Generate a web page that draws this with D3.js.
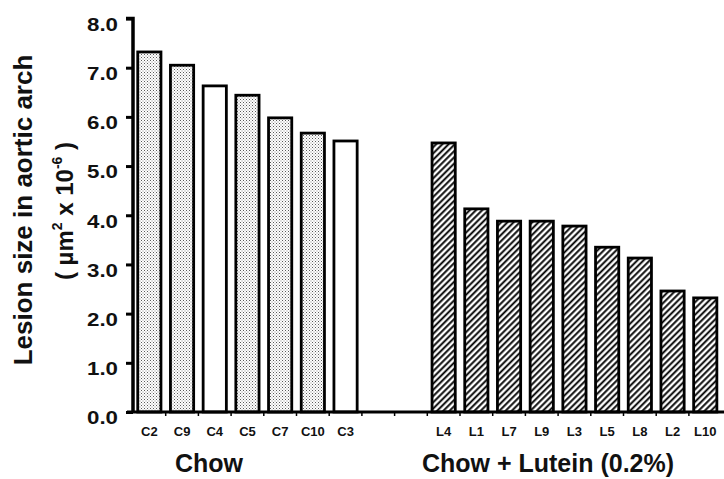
<!DOCTYPE html>
<html>
<head>
<meta charset="utf-8">
<script src="https://cdn.jsdelivr.net/npm/d3@7"></script>
<style>
  html, body { margin: 0; padding: 0; background: #fff; }
  svg { display: block; font-family: "Liberation Sans", Arial, sans-serif; font-weight: bold; }
</style>
</head>
<body>
<script>
// Lesion size in the aortic arch (µm² × 10⁻⁶) for each animal
const chowIds = ["C2", "C9", "C4", "C5", "C7", "C10", "C3"];
const chowValues = [7.32, 7.05, 6.63, 6.44, 5.98, 5.67, 5.51];
const luteinIds = ["L4", "L1", "L7", "L9", "L3", "L5", "L8", "L2", "L10"];
const luteinValues = [5.47, 4.13, 3.88, 3.88, 3.78, 3.35, 3.13, 2.46, 2.32];
const yTicks = [0, 1, 2, 3, 4, 5, 6, 7, 8];
const groupTitles = ["Chow", "Chow + Lutein (0.2%)"];

const W = 724, H = 479;
const svg = d3.select("body").append("svg").attr("width", W).attr("height", H);

// two empty slots separate the groups along the category axis
const gapSlots = ["gap-a", "gap-b"];
const slots = [...chowIds, ...gapSlots, ...luteinIds];
const bars = [
  ...chowIds.map((id, i) => ({ id, value: chowValues[i], group: 0 })),
  ...luteinIds.map((id, i) => ({ id, value: luteinValues[i], group: 1 }))
];

const x = d3.scaleBand().domain(slots).range([133, 721.6]).padding(0);
const y = d3.scaleLinear().domain([0, 8]).range([412, 18.5]);
const barW = x.bandwidth() * 0.71;

// fill patterns: fine stipple for chow, diagonal hatching for lutein
const defs = svg.append("defs");
const dots = defs.append("pattern").attr("id", "stipple")
  .attr("patternUnits", "userSpaceOnUse").attr("width", 3).attr("height", 3);
dots.append("rect").attr("width", 3).attr("height", 3).attr("fill", "#fff");
dots.append("rect").attr("x", 0).attr("y", 0).attr("width", 1).attr("height", 1).attr("fill", "#5a5a5a");
dots.append("rect").attr("x", 1.5).attr("y", 1.5).attr("width", 1).attr("height", 1).attr("fill", "#8a8a8a");

const hatchStep = 4.4;
const hatch = defs.append("pattern").attr("id", "hatch")
  .attr("patternUnits", "userSpaceOnUse").attr("width", hatchStep).attr("height", hatchStep)
  .attr("patternTransform", "rotate(45)");
hatch.append("rect").attr("width", hatchStep).attr("height", hatchStep).attr("fill", "#fff");
hatch.append("line").attr("x1", 1.2).attr("y1", 0).attr("x2", 1.2).attr("y2", hatchStep)
  .attr("stroke", "#000").attr("stroke-width", 1.9);

// chow bars drawn without stipple
const plainBars = new Set(["C4", "C3"]);
const fillOf = d => d.group === 1 ? "url(#hatch)" : (plainBars.has(d.id) ? "#fff" : "url(#stipple)");

svg.append("g").selectAll("rect").data(bars).join("rect")
  .attr("x", d => x(d.id) + (x.bandwidth() - barW) / 2)
  .attr("y", d => y(d.value))
  .attr("width", barW)
  .attr("height", d => y(0) - y(d.value))
  .attr("fill", fillOf)
  .attr("stroke", "#000")
  .attr("stroke-width", 2.8);

// y axis
const yAxis = svg.append("g").attr("transform", "translate(133,0)")
  .call(d3.axisLeft(y).tickValues(yTicks).tickFormat(d3.format(".1f")).tickSize(7).tickPadding(8));
yAxis.select(".domain").attr("stroke-width", 3.5).attr("d", `M-7,${y(8)}H0V${y(0)}`);
yAxis.selectAll(".tick line").attr("stroke-width", 3);
yAxis.selectAll(".tick text")
  .attr("font-size", 19).attr("font-weight", "bold").attr("fill", "#111")
  .attr("font-family", "Liberation Sans, Arial, sans-serif")
  .attr("dy", "0.62em")
  .attr("textLength", 31).attr("lengthAdjust", "spacingAndGlyphs");

// x axis: baseline with small ticks at slot boundaries, labels under bars
const xAxisG = svg.append("g").attr("transform", `translate(0,${y(0)})`);
xAxisG.append("line").attr("x1", 127).attr("x2", W).attr("y1", 0).attr("y2", 0)
  .attr("stroke", "#000").attr("stroke-width", 3);
xAxisG.selectAll("line.bound").data(slots.slice(1)).join("line").attr("class", "bound")
  .attr("x1", d => x(d)).attr("x2", d => x(d)).attr("y1", 0).attr("y2", 4)
  .attr("stroke", "#000").attr("stroke-width", 1.5);

const labelAxis = svg.append("g").attr("transform", `translate(0,${y(0)})`)
  .call(d3.axisBottom(x).tickValues([...chowIds, ...luteinIds]).tickSize(0).tickPadding(15));
labelAxis.select(".domain").remove();
labelAxis.selectAll(".tick text")
  .attr("font-size", 13).attr("font-weight", "bold").attr("fill", "#111")
  .attr("font-family", "Liberation Sans, Arial, sans-serif");

// group titles
const titleX = [209, 548];
svg.append("g").selectAll("text").data(groupTitles).join("text")
  .attr("x", (d, i) => titleX[i]).attr("y", 472)
  .attr("text-anchor", "middle").attr("font-size", 25).attr("fill", "#111")
  .text(d => d);

// y axis title, two lines
svg.append("text")
  .attr("transform", "translate(32,210) rotate(-90)")
  .attr("text-anchor", "middle").attr("font-size", 26).attr("fill", "#111")
  .text("Lesion size in aortic arch");

const unit = svg.append("text")
  .attr("transform", "translate(73,211) rotate(-90)")
  .attr("text-anchor", "middle").attr("font-size", 24).attr("fill", "#111");
unit.append("tspan").text("( µm");
unit.append("tspan").attr("font-size", 14).attr("dy", -11).text("2");
unit.append("tspan").attr("dy", 11).text(" x 10");
unit.append("tspan").attr("font-size", 14).attr("dy", -11).text("-6");
unit.append("tspan").attr("dy", 11).text(" )");
</script>
</body>
</html>
